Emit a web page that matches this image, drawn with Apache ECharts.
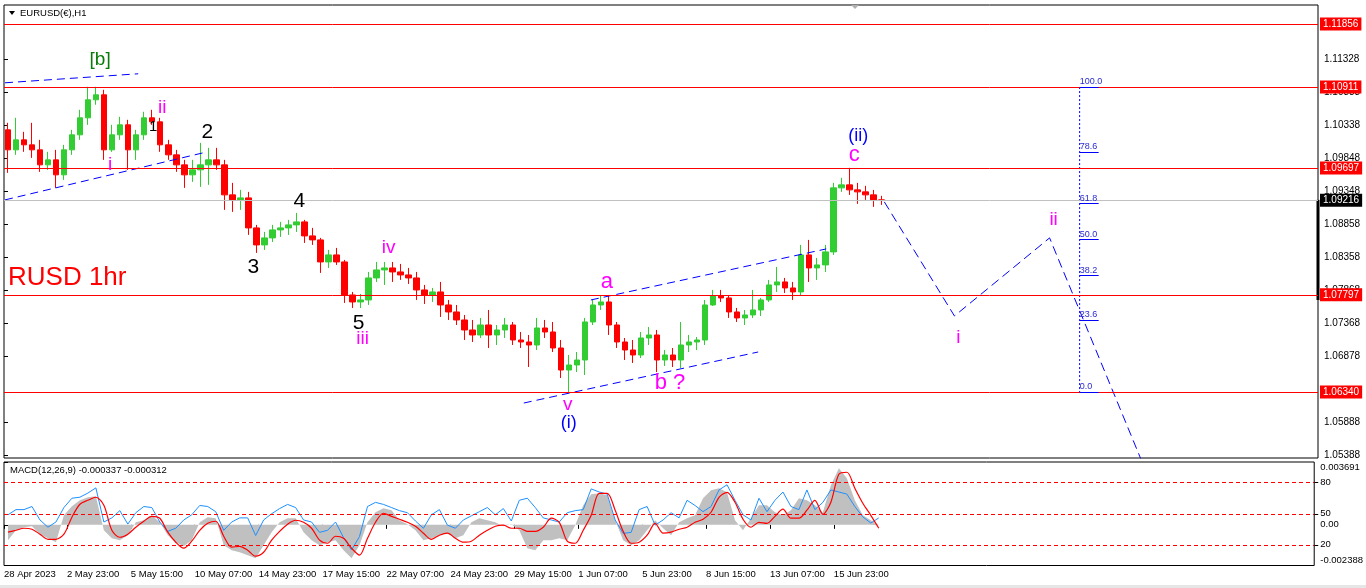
<!DOCTYPE html>
<html>
<head>
<meta charset="UTF-8">
<title>EURUSD(€),H1</title>
<script src="https://cdn.jsdelivr.net/npm/echarts@6/dist/echarts.min.js"></script>
<style>
    html, body { margin: 0; padding: 0; background: #fff; }
    #main { width: 1366px; height: 588px; }
</style>
</head>
<body>
<div id="main"></div>
<script>
// 8-hour candles (bar index = hours from chart start)
var candleOpen = [1.1027,1.0997,1.1012,1.10045,1.0997,1.09745,1.0982,1.09595,1.0997,1.10195,
    1.1045,1.1072,1.10795,1.0997,1.10195,1.10345,1.0997,1.10195,1.1045,1.1039,
    1.10045,1.09895,1.09745,1.09595,1.0967,1.09745,1.0982,1.09745,1.09295,1.0922,
    1.0925,1.088,1.08545,1.0865,1.0877,1.088,1.08845,1.0889,1.0868,1.0862,
    1.0829,1.08395,1.0829,1.07795,1.0769,1.0772,1.0805,1.0817,1.082,1.0814,
    1.08095,1.0805,1.0787,1.07795,1.0784,1.07645,1.0754,1.0742,1.0727,1.07195,
    1.07345,1.07195,1.0727,1.07345,1.0712,1.0709,1.07045,1.073,1.0724,1.07,
    1.0667,1.06745,1.0682,1.0739,1.07645,1.0769,1.07345,1.0709,1.0697,1.06895,
    1.0715,1.07195,1.0682,1.06895,1.0682,1.07045,1.0709,1.0712,1.07645,1.0778,
    1.0775,1.0754,1.0745,1.07495,1.0757,1.0772,1.07945,1.0799,1.079,1.0784,
    1.08395,1.082,1.08245,1.0844,1.094,1.09445,1.0937,1.0934,1.09295,1.0922];
var candleHigh = [1.10375,1.1045,1.1024,1.10375,1.1012,1.0994,1.0997,1.10045,1.1027,1.1057,
    1.10915,1.10915,1.1087,1.10345,1.10465,1.1042,1.1027,1.1054,1.1057,1.1045,
    1.1012,1.0997,1.0982,1.0982,1.10075,1.1000,1.1000,1.0982,1.09475,1.0937,
    1.0934,1.08845,1.0874,1.08845,1.0889,1.0892,1.09025,1.0892,1.088,1.0865,
    1.0847,1.085,1.0832,1.0784,1.0781,1.0814,1.0829,1.0829,1.0829,1.0826,
    1.082,1.0814,1.07945,1.079,1.0799,1.0772,1.07645,1.07495,1.0742,1.0745,
    1.0757,1.07345,1.0745,1.0739,1.0724,1.07195,1.0745,1.0742,1.0739,1.0712,
    1.06895,1.0694,1.0745,1.0772,1.0778,1.07795,1.0739,1.0715,1.0712,1.0724,
    1.07315,1.0727,1.0697,1.07,1.0739,1.07195,1.07165,1.0772,1.0787,1.0787,
    1.07795,1.076,1.0757,1.0787,1.0775,1.0802,1.08215,1.0805,1.0799,1.08545,
    1.0862,1.0835,1.08545,1.09475,1.0955,1.097,1.09475,1.0943,1.0937,1.0928];
var candleLow = [1.09625,1.09895,1.0994,1.0985,1.0964,1.0967,1.094,1.0952,1.09895,1.1012,
    1.10345,1.10645,1.0982,1.0994,1.1012,1.0967,1.0982,1.1012,1.10345,1.0994,
    1.0982,1.0964,1.094,1.0949,1.09415,1.09445,1.0967,1.0907,1.0904,1.0907,
    1.08695,1.08425,1.0847,1.0859,1.08665,1.08695,1.0874,1.08575,1.08545,1.08125,
    1.082,1.08245,1.07675,1.076,1.076,1.07645,1.0799,1.07945,1.0799,1.0802,
    1.0796,1.0772,1.0766,1.0769,1.07465,1.0742,1.07345,1.0712,1.0709,1.0715,
    1.07,1.07045,1.0715,1.07045,1.07,1.06715,1.0697,1.0715,1.0694,1.0655,
    1.0634,1.0664,1.06595,1.07345,1.0757,1.07195,1.07,1.0682,1.06775,1.0685,
    1.07045,1.0664,1.0673,1.06715,1.067,1.0694,1.0697,1.07045,1.0763,1.0769,
    1.0745,1.0739,1.07345,1.0745,1.0748,1.0769,1.0784,1.07825,1.0772,1.0778,
    1.0799,1.0802,1.0814,1.08395,1.0934,1.09295,1.0916,1.0922,1.09115,1.09145];
var candleClose = [1.0997,1.1012,1.10045,1.0997,1.09745,1.0982,1.09595,1.0997,1.10195,1.1045,
    1.1072,1.10795,1.0997,1.10195,1.10345,1.0997,1.10195,1.1045,1.1039,1.10045,
    1.09895,1.09745,1.09595,1.0967,1.09745,1.0982,1.09745,1.09295,1.0922,1.0925,
    1.088,1.08545,1.0865,1.0877,1.088,1.08845,1.0889,1.0868,1.0862,1.0829,
    1.08395,1.0829,1.07795,1.0769,1.0772,1.0805,1.0817,1.082,1.0814,1.08095,
    1.0805,1.0787,1.07795,1.0784,1.07645,1.0754,1.0742,1.0727,1.07195,1.07345,
    1.07195,1.0727,1.07345,1.0712,1.0709,1.07045,1.073,1.0724,1.07,1.0667,
    1.06745,1.0682,1.0739,1.07645,1.0769,1.07345,1.0709,1.0697,1.06895,1.0715,
    1.07195,1.0682,1.06895,1.0682,1.07045,1.0709,1.0712,1.07645,1.0778,1.0775,
    1.0754,1.0745,1.07495,1.0757,1.0772,1.07945,1.0799,1.079,1.0784,1.08395,
    1.082,1.08245,1.0844,1.094,1.09445,1.0937,1.0934,1.09295,1.0922,1.09216];

// MACD window (same 8-hour steps)
var macdMain = [-0.00090,-0.00032,-0.00014,-0.00008,-0.00055,-0.00079,-0.00102,0.00056,0.00109,0.00144,
    0.00162,0.00168,-0.00032,-0.00079,-0.00090,-0.00061,0.00015,0.00027,0.00056,0.00015,
    -0.00061,-0.00102,-0.00126,-0.00090,0.00015,0.00045,0.00039,-0.00120,-0.00149,-0.00161,
    -0.00178,-0.00196,-0.00120,-0.00043,0.00015,0.00039,0.00039,-0.00043,-0.00090,-0.00120,
    -0.00102,-0.00090,-0.00149,-0.00196,-0.00120,0.00015,0.00074,0.00097,0.00086,0.00027,
    0.00004,-0.00032,-0.00090,-0.00079,-0.00061,-0.00049,-0.00079,-0.00061,0.00015,0.00039,
    0.00027,0.00015,-0.00008,0.00004,-0.00032,-0.00137,-0.00149,-0.00090,-0.00090,-0.00079,
    -0.00090,-0.00002,0.00115,0.00180,0.00186,0.00174,0.00027,-0.00090,-0.00120,-0.00090,
    -0.00032,0.00027,-0.00020,-0.00061,0.00015,0.00039,0.00056,0.00156,0.00203,0.00215,
    0.00191,0.00027,-0.00032,0.00039,0.00115,0.00115,0.00074,0.00056,0.00086,0.00156,
    0.00144,0.00115,0.00074,0.00233,0.00332,0.00274,0.00144,0.00056,0.00027,-0.00002];
var macdSignal = [-0.00043,-0.00032,-0.00020,-0.00026,-0.00055,-0.00085,-0.00085,-0.00055,0.00045,0.00121,
    0.00144,0.00162,0.00115,-0.00032,-0.00073,-0.00055,-0.00014,0.00021,0.00050,0.00039,
    -0.00043,-0.00102,-0.00137,-0.00096,-0.00032,0.00009,0.00021,-0.00067,-0.00131,-0.00126,
    -0.00149,-0.00184,-0.00161,-0.00090,-0.00038,0.00004,0.00027,0.00015,-0.00020,-0.00090,
    -0.00108,-0.00067,-0.00079,-0.00137,-0.00178,-0.00079,0.00015,0.00068,0.00050,0.00033,
    0.00015,-0.00008,-0.00049,-0.00085,-0.00061,-0.00049,-0.00079,-0.00102,-0.00096,-0.00061,
    -0.00032,-0.00008,-0.00002,-0.00020,-0.00020,-0.00038,-0.00038,-0.00014,0.00039,0.00015,
    -0.00096,-0.00108,-0.00032,0.00056,0.00185,0.00185,0.00086,-0.00038,-0.00108,-0.00102,
    -0.00061,0.00009,-0.00049,-0.00043,-0.00026,-0.00014,0.00015,0.00033,0.00074,0.00162,
    0.00191,0.00133,0.00033,-0.00014,0.00015,0.00009,0.00050,0.00092,0.00039,0.00039,
    0.00086,0.00144,0.00062,0.00133,0.00297,0.00309,0.00215,0.00127,0.00056,-0.00020];
var oscBlue = [49,54,54,57,44,37,42,56,65,66,
    70,75,42,46,53,40,51,57,56,42,
    33,36,44,49,58,57,52,34,42,46,
    46,29,44,50,55,59,56,44,42,32,
    34,42,27,15,28,57,61,59,56,53,
    51,43,36,49,54,39,36,44,48,52,
    56,49,55,43,63,65,56,46,44,42,
    51,53,54,74,71,69,44,31,32,54,
    57,39,44,51,46,63,58,52,57,73,
    78,63,49,44,65,52,63,71,57,54,
    73,54,61,73,71,69,57,47,41,46];
var oscLevels = [20, 50, 80];

// price axis
var yTickValues = [1.05388,1.05888,1.06878,1.07368,1.07868,1.08358,1.08858,1.09348,1.09848,1.10338,1.10838,1.11328];
var levelPrices = [1.11856, 1.10911, 1.09697, 1.07797, 1.06340];
var lastPrice = 1.09216;
var dayRange = [1.0922, 1.0772];
var macdTickValues = [-0.002388, 0, 0.003691];
var macdTickLabels = ['-0.002388', '0.00', '0.003691'];

// time axis
var xTickBars = [0, 63, 127, 191, 255, 319, 383, 447, 511, 575, 639, 703, 767, 831];
var xTickLabels = ['28 Apr 2023','2 May 23:00','5 May 15:00','10 May 07:00','14 May 23:00','17 May 15:00',
    '22 May 07:00','24 May 23:00','29 May 15:00','1 Jun 07:00','5 Jun 23:00','8 Jun 15:00','13 Jun 07:00','15 Jun 23:00'];

// drawn objects: [bar, price]
var trendLines = [
    [[1, 1.10975], [134, 1.1111]],
    [[1, 1.0922], [203, 1.0994]],
    [[519, 1.06175], [753, 1.0694]],
    [[586, 1.0772], [821, 1.08485]]
];
var projectionPath = [[879, 1.0919], [949, 1.0748], [1044, 1.0865], [1135, 1.0534]];
var fibBar = 1074, fibEndBar = 1093, fibLow = 1.0634, fibHigh = 1.10911;
var fibRatios = [0, 23.6, 38.2, 50, 61.8, 78.6, 100];

// wave labels: [text, bar, price]
var greenLabels = [['[b]', 96, 1.1132]];
var magentaNumerals = [['i', 106, 1.0975], ['ii', 158, 1.1060], ['iii', 358, 1.07135], ['iv', 384, 1.0850],
    ['v', 563, 1.06145], ['i', 953, 1.0715], ['ii', 1048, 1.0892]];
var magentaLetters = [['a', 602, 1.0799], ['b ?', 665, 1.06475], ['c', 849, 1.09895]];
var blackLabels = [['2', 203, 1.1024], ['3', 249, 1.08215], ['4', 295, 1.09205], ['5', 354, 1.07375]];
var blackSmall = [['1', 149, 1.10315]];
var blueLabels = [['(i)', 564, 1.05875], ['(ii)', 853, 1.1018]];
var noteLabels = [['RUSD 1hr', 4, 1.0805]];

var FONT = '"Liberation Sans", Arial, sans-serif';
var SLOTS = 164, HOURS = SLOTS * 8;

var dom = document.getElementById('main');
var myChart = echarts.init(dom);

var candles = [];
for (var i = 0; i < candleOpen.length; i++) {
    candles.push([candleOpen[i], candleClose[i], candleLow[i], candleHigh[i]]);
}
var slotNames = [];
for (var s = 0; s < SLOTS; s++) slotNames.push(String(s));

function onBars(arr) {
    return arr.map(function (v, k) { return [k * 8 + 4, v]; });
}

var levelMarks = levelPrices.map(function (p) {
    return {
        yAxis: p,
        lineStyle: { color: '#ff0000', width: 1, type: 'solid' },
        label: { backgroundColor: '#ff0000', color: '#fff' }
    };
});
levelMarks.push({
    yAxis: lastPrice,
    lineStyle: { color: '#c0c0c0', width: 1, type: 'solid' },
    label: { backgroundColor: '#000', color: '#fff' }
});

var fibMarks = fibRatios.map(function (r) {
    var p = fibLow + (fibHigh - fibLow) * r / 100;
    return [{ coord: [fibBar, p], name: r.toFixed(1) }, { coord: [fibEndBar, p] }];
});

function labelSeries(items, color, size, where) {
    return {
        type: 'scatter',
        xAxisIndex: 1, yAxisIndex: 0,
        symbolSize: 0,
        silent: true,
        z: 6,
        itemStyle: { opacity: 1 },
        data: items.map(function (it) {
            return { value: [it[1], it[2]], name: it[0] };
        }),
        label: {
            show: true,
            position: where || 'inside',
            distance: 0,
            formatter: '{b}',
            color: color,
            opacity: 1,
            fontSize: size,
            fontFamily: FONT
        }
    };
}

var series = [
    {
        name: 'EURUSD',
        type: 'candlestick',
        xAxisIndex: 0, yAxisIndex: 0,
        barWidth: 6,
        data: candles,
        itemStyle: {
            color: '#32cd32', color0: '#ff0000',
            borderColor: '#32cd32', borderColor0: '#ff0000',
            borderWidth: 1
        },
        markLine: {
            silent: true,
            symbol: ['none', 'none'],
            animation: false,
            precision: 5,
            data: levelMarks,
            label: {
                position: 'end',
                distance: 2,
                formatter: function (p) { return p.value.toFixed(5); },
                fontSize: 10,
                fontFamily: FONT,
                padding: [2, 3, 1, 3]
            }
        }
    },
    {
        // day range bar on the price scale
        type: 'line',
        xAxisIndex: 1, yAxisIndex: 0,
        data: [[HOURS, dayRange[0]], [HOURS, dayRange[1]]],
        symbol: 'none', clip: false, silent: true,
        lineStyle: { color: '#000', width: 3 }
    },
    {
        type: 'line',
        xAxisIndex: 1, yAxisIndex: 0,
        data: projectionPath,
        symbol: 'none', silent: true,
        lineStyle: { color: '#0000ff', width: 1, type: [9, 5] }
    },
    {
        // fibonacci retracement
        type: 'line',
        xAxisIndex: 1, yAxisIndex: 0,
        data: [[fibBar, fibHigh], [fibBar, fibLow]],
        symbol: 'none', silent: true,
        lineStyle: { color: '#0000ff', width: 1, type: [2, 2] },
        markLine: {
            silent: true,
            symbol: ['none', 'none'],
            animation: false,
            precision: 5,
            lineStyle: { color: '#0000ff', width: 1, type: 'solid' },
            label: {
                position: 'insideStartTop',
                distance: [0, 1],
                formatter: '{b}',
                color: '#2a2ad0',
                fontSize: 9,
                fontFamily: FONT
            },
            data: fibMarks
        }
    }
];

trendLines.forEach(function (seg) {
    series.push({
        type: 'line',
        xAxisIndex: 1, yAxisIndex: 0,
        data: seg,
        symbol: 'none', silent: true,
        lineStyle: { color: '#0000ff', width: 1, type: [8, 5] }
    });
});

series.push(labelSeries(greenLabels, '#0a7a0a', 19));
series.push(labelSeries(magentaNumerals, '#ff00ff', 19));
series.push(labelSeries(magentaLetters, '#ff00ff', 22));
series.push(labelSeries(blackLabels, '#000', 21));
series.push(labelSeries(blackSmall, '#000', 15));
series.push(labelSeries(blueLabels, '#0000ff', 18));
series.push(labelSeries(noteLabels, '#ff0000', 26, 'right'));

// MACD window
series.push({
    type: 'line',
    xAxisIndex: 2, yAxisIndex: 1,
    data: onBars(macdMain),
    symbol: 'none', silent: true,
    lineStyle: { width: 0 },
    areaStyle: { color: '#c0c0c0', opacity: 1 }
});
series.push({
    type: 'line',
    xAxisIndex: 2, yAxisIndex: 2,
    data: onBars(oscBlue),
    symbol: 'none', silent: true,
    lineStyle: { color: '#1e90ff', width: 1 },
    markLine: {
        silent: true,
        symbol: ['none', 'none'],
        animation: false,
        label: { show: false },
        lineStyle: { color: '#ff0000', width: 1, type: [4, 3] },
        data: oscLevels.map(function (v) { return { yAxis: v }; })
    }
});
series.push({
    type: 'line',
    xAxisIndex: 2, yAxisIndex: 1,
    data: onBars(macdSignal),
    symbol: 'none', silent: true, smooth: 0.3,
    lineStyle: { color: '#ff0000', width: 1.2 }
});

var option = {
    animation: false,
    backgroundColor: '#fff',
    textStyle: { fontFamily: FONT },
    grid: [
        { left: 4, top: 5, width: 1314, height: 453, show: true, borderColor: '#000', borderWidth: 1, backgroundColor: '#fff' },
        { left: 4, top: 462, width: 1314, height: 103.5, show: true, borderColor: '#000', borderWidth: 1, backgroundColor: '#fff' }
    ],
    xAxis: [
        { type: 'category', gridIndex: 0, data: slotNames, show: false, boundaryGap: true },
        { type: 'value', gridIndex: 0, min: 0, max: HOURS, show: false },
        {
            type: 'value', gridIndex: 1, min: 0, max: HOURS,
            axisLine: { show: false },
            splitLine: { show: false },
            axisTick: { show: true, customValues: xTickBars, length: 4, lineStyle: { color: '#000' } },
            axisLabel: {
                customValues: xTickBars,
                formatter: function (v) { return xTickLabels[xTickBars.indexOf(v)]; },
                align: 'left',
                margin: 4,
                color: '#000',
                fontSize: 9.5,
                fontFamily: FONT
            }
        }
    ],
    yAxis: [
        {
            type: 'value', gridIndex: 0, position: 'right',
            min: 1.05351, max: 1.12141,
            axisLine: { show: false },
            splitLine: { show: false },
            axisTick: { show: true, customValues: yTickValues, length: 4, lineStyle: { color: '#000' } },
            axisLabel: {
                customValues: yTickValues,
                formatter: function (v) { return v.toFixed(5); },
                margin: 6, color: '#000', fontSize: 10, fontFamily: FONT
            }
        },
        {
            type: 'value', gridIndex: 1, position: 'right',
            min: macdTickValues[0], max: macdTickValues[2],
            axisLine: { show: false },
            splitLine: { show: false },
            axisTick: { show: true, customValues: macdTickValues, length: 4, lineStyle: { color: '#000' } },
            axisLabel: {
                customValues: macdTickValues,
                formatter: function (v) {
                    var k = macdTickValues.indexOf(v);
                    if (k === 2) return '{t|' + macdTickLabels[k] + '}';
                    if (k === 0) return '{b|' + macdTickLabels[k] + '}';
                    return macdTickLabels[k];
                },
                rich: { t: { padding: [10, 0, 0, 0] }, b: { padding: [0, 0, 10, 0] } },
                margin: 6, color: '#000', fontSize: 9.5, fontFamily: FONT
            }
        },
        {
            type: 'value', gridIndex: 1, position: 'right',
            min: 0, max: 100,
            axisLine: { show: false },
            splitLine: { show: false },
            axisTick: { show: true, customValues: oscLevels, length: 4, lineStyle: { color: '#000' } },
            axisLabel: {
                customValues: oscLevels,
                margin: 6, color: '#000', fontSize: 9.5, fontFamily: FONT
            }
        }
    ],
    graphic: [
        { type: 'polygon', shape: { points: [[9, 11], [15, 11], [12, 15]] }, style: { fill: '#000' } },
        { type: 'text', left: 20, top: 8, style: { text: 'EURUSD(€),H1', fill: '#000', font: '9.5px "Liberation Sans", Arial' } },
        { type: 'polygon', shape: { points: [[851, 5], [859, 5], [855, 9]] }, style: { fill: '#b0b0b0' } },
        { type: 'text', left: 10, top: 465, style: { text: 'MACD(12,26,9) -0.000337 -0.000312', fill: '#000', font: '9.5px "Liberation Sans", Arial' } },
        { type: 'rect', left: 0, top: 585, shape: { width: 1366, height: 3 }, style: { fill: '#e6e6e6' } }
    ],
    series: series
};

myChart.setOption(option);
</script>
</body>
</html>
